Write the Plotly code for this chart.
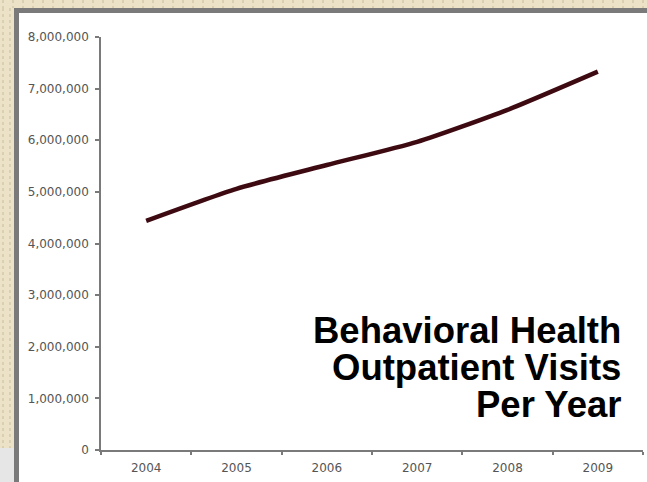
import plotly.graph_objects as go

# ---- data ----
years = ["2004", "2005", "2006", "2007", "2008", "2009"]
visits = [4440000, 5060000, 5520000, 5970000, 6590000, 7330000]
y_ticks = [0, 1000000, 2000000, 3000000, 4000000, 5000000, 6000000, 7000000, 8000000]
title_lines = ["Behavioral Health", "Outpatient Visits", "Per Year"]

W, H = 647, 482
L, R, T, B = 101, 4, 37, 32
PW, PH = W - L - R, H - T - B


def px(x):
    return (x - L) / PW


def py(y):
    return (H - B - y) / PH


fig = go.Figure()
fig.add_trace(go.Scatter(
    x=years, y=visits, mode="lines",
    line=dict(color="#3e0a12", width=4.5, shape="spline", smoothing=0.6),
    hoverinfo="skip", showlegend=False,
))

shapes = []
# beige slide background
BEIGE = "#ece2c8"
DOT = "#c9bc99"
# dotted texture lines in the beige strips
for xv in range(3, W, 10):
    shapes.append(dict(type="line", xref="paper", yref="paper",
                       x0=px(xv), x1=px(xv), y0=py(0), y1=py(8),
                       line=dict(color=DOT, width=1, dash="dot"), layer="below"))
for xv in [3, 10]:
    shapes.append(dict(type="line", xref="paper", yref="paper",
                       x0=px(xv), x1=px(xv), y0=py(8), y1=py(448),
                       line=dict(color=DOT, width=1, dash="dot"), layer="below"))
# light gray lower-left patch
shapes.append(dict(type="rect", xref="paper", yref="paper",
                   x0=px(0), x1=px(14), y0=py(448), y1=py(H),
                   fillcolor="#e6e6e6", line=dict(width=0), layer="below"))
# gray frame
shapes.append(dict(type="rect", xref="paper", yref="paper",
                   x0=px(14), x1=px(W + 10), y0=py(8), y1=py(H + 10),
                   fillcolor="#7a7a7a", line=dict(width=0), layer="below"))
# white panel
shapes.append(dict(type="rect", xref="paper", yref="paper",
                   x0=px(19), x1=px(W + 10), y0=py(13), y1=py(H + 10),
                   fillcolor="#ffffff", line=dict(width=0), layer="below"))

annotations = []
for txt, yc in zip(title_lines, [330, 367, 404]):
    annotations.append(dict(
        text="<b>" + txt + "</b>", xref="paper", yref="paper",
        x=px(623), y=py(yc), xanchor="right", yanchor="middle",
        showarrow=False, align="right",
        font=dict(family="Liberation Sans, Arial", size=36.5, color="#000000"),
    ))

tick_font = dict(family="DejaVu Sans", size=12, color="#555555")

fig.update_layout(
    width=W, height=H,
    margin=dict(l=L, r=R, t=T, b=B, pad=0),
    paper_bgcolor=BEIGE, plot_bgcolor="rgba(0,0,0,0)",
    shapes=shapes, annotations=annotations,
    showlegend=False,
    xaxis=dict(
        type="category", range=[-0.5, 5.5],
        showline=True, linecolor="#7a7a7a", linewidth=1.5,
        ticks="outside", ticklen=3, tickcolor="#7a7a7a", tickwidth=1.5,
        tickson="boundaries", showgrid=False, zeroline=False,
        tickfont=tick_font, ticklabelstandoff=6,
    ),
    yaxis=dict(
        range=[0, 8000000], tickvals=y_ticks, tickformat=",d",
        showline=True, linecolor="#7a7a7a", linewidth=1.5,
        ticks="outside", ticklen=4, tickcolor="#7a7a7a", tickwidth=1.5,
        showgrid=False, zeroline=False,
        tickfont=tick_font, ticklabelstandoff=4,
    ),
)

fig.write_html(
    "out.html",
    config={"displayModeBar": False},
    post_script="document.body.style.margin='0';document.body.style.overflow='hidden';",
)
